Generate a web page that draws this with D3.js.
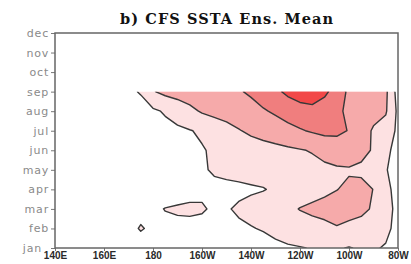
<!DOCTYPE html>
<html>
<head>
<meta charset="utf-8">
<script src="https://cdn.jsdelivr.net/npm/d3@7"></script>
<style>
  body { margin: 0; background: #fff; }
  svg { display: block; }
  .title { font-family: "DejaVu Serif", serif; font-weight: bold; font-size: 14.5px; fill: #111; }
  .y-axis text { font-family: "DejaVu Sans", sans-serif; font-size: 11px; fill: #8a8a8a; letter-spacing: 0.8px; }
  .x-axis text { font-family: "Liberation Sans", Arial, sans-serif; font-size: 10px; font-weight: bold; fill: #2a2a2a; }
  .domain { display: none; }
  .tick line { stroke: #777; }
  .contour { stroke: #383838; stroke-width: 1.4; stroke-linejoin: round; }
</style>
</head>
<body>
<svg id="chart" width="411" height="264"></svg>
<script>
const months = ["jan", "feb", "mar", "apr", "may", "jun", "jul", "aug", "sep", "oct", "nov", "dec"];
const lonTicks = [140, 160, 180, 200, 220, 240, 260, 280];
const lonLabels = ["140E", "160E", "180", "160W", "140W", "120W", "100W", "80W"];

// grid longitudes 140E..80W every 5 degrees, one row per month (jan..sep)
const lons = d3.range(140, 281, 5);
const levels = [0.5, 1.0, 1.5, 2.0];
const levelColors = ["#fde1e2", "#f6aaaa", "#f07e7e", "#f24848"];

const jan = [0, 0, 0.02, 0.03, 0.05, 0.07, 0.1, 0.2, 0.15, 0.15, 0.15, 0.18, 0.2, 0.22, 0.25, 0.28, 0.3, 0.35, 0.4, 0.45, 0.48, 0.52, 0.51, 0.54, 0.48, 0.55, 0.56, 0.45, 0.2];
const feb = [0, 0.01, 0.03, 0.06, 0.1, 0.18, 0.3, 0.55, 0.38, 0.35, 0.36, 0.37, 0.38, 0.39, 0.4, 0.44, 0.48, 0.53, 0.62, 0.7, 0.76, 0.82, 0.88, 0.97, 0.88, 0.84, 0.78, 0.65, 0.3];
const mar = [0, 0.02, 0.05, 0.08, 0.12, 0.17, 0.22, 0.3, 0.38, 0.52, 0.57, 0.58, 0.54, 0.44, 0.47, 0.55, 0.62, 0.7, 0.78, 0.88, 1.02, 1.1, 1.15, 1.18, 1.18, 1.1, 0.95, 0.7, 0.35];
const apr = [0, 0.01, 0.03, 0.05, 0.07, 0.09, 0.11, 0.13, 0.14, 0.16, 0.22, 0.34, 0.42, 0.4, 0.4, 0.42, 0.45, 0.48, 0.56, 0.65, 0.72, 0.8, 0.9, 0.99, 1.08, 1.15, 0.99, 0.65, 0.3];
const may = [0, 0.01, 0.02, 0.03, 0.04, 0.06, 0.08, 0.11, 0.15, 0.2, 0.28, 0.36, 0.45, 0.55, 0.6, 0.63, 0.66, 0.68, 0.72, 0.76, 0.8, 0.86, 0.9, 0.94, 0.96, 0.9, 0.72, 0.53, 0.3];
const jun = [0, 0.01, 0.02, 0.03, 0.05, 0.07, 0.1, 0.15, 0.2, 0.25, 0.32, 0.4, 0.47, 0.56, 0.62, 0.68, 0.74, 0.8, 0.86, 0.92, 0.97, 1.03, 1.15, 1.25, 1.25, 1.15, 0.95, 0.6, 0.35];
const jul = [0, 0.02, 0.05, 0.07, 0.1, 0.15, 0.2, 0.25, 0.3, 0.36, 0.42, 0.48, 0.56, 0.68, 0.82, 0.97, 1.1, 1.2, 1.28, 1.36, 1.46, 1.55, 1.62, 1.6, 1.48, 1.2, 0.95, 0.8, 0.4];
const aug = [0.05, 0.08, 0.1, 0.15, 0.2, 0.25, 0.3, 0.35, 0.42, 0.55, 0.7, 0.88, 1.05, 1.15, 1.22, 1.3, 1.38, 1.46, 1.56, 1.7, 1.8, 1.85, 1.75, 1.6, 1.4, 1.25, 1.15, 1.05, 0.4];
const sep = [0.1, 0.15, 0.2, 0.25, 0.3, 0.36, 0.42, 0.53, 0.97, 1.12, 1.2, 1.25, 1.3, 1.35, 1.4, 1.47, 1.55, 1.7, 1.9, 2.1, 2.25, 2.3, 2.1, 1.8, 1.4, 1.3, 1.2, 1.1, 0.3];

const rows = [jan, feb, mar, apr, may, jun, jul, aug, sep];

const svg = d3.select("#chart");
const margin = { left: 55, right: 13, top: 33, bottom: 16 };
const width = 411;
const height = 264;

const x = d3.scaleLinear().domain([140, 280]).range([margin.left, width - margin.right]);
const y = d3.scaleLinear().domain([0, 11]).range([height - margin.bottom, margin.top]);

svg.append("text")
  .attr("class", "title")
  .attr("x", (x.range()[0] + x.range()[1]) / 2)
  .attr("y", 24)
  .attr("text-anchor", "middle")
  .attr("textLength", 213)
  .attr("lengthAdjust", "spacing")
  .text("b) CFS SSTA Ens. Mean");

svg.append("clipPath")
  .attr("id", "data-clip")
  .append("rect")
  .attr("x", x(140))
  .attr("y", y(rows.length - 1))
  .attr("width", x(280) - x(140))
  .attr("height", y(0) - y(rows.length - 1));

// grid cell centres sit at index + 0.5 in contour space
const step = lons[1] - lons[0];
const toScreen = d3.geoTransform({
  point(gx, gy) {
    this.stream.point(x(lons[0] + (gx - 0.5) * step), y(gy - 0.5));
  },
});
const path = d3.geoPath(toScreen);

const contours = d3.contours()
  .size([lons.length, rows.length])
  .thresholds(levels)(rows.flat());

svg.append("g")
  .attr("clip-path", "url(#data-clip)")
  .selectAll("path")
  .data(contours)
  .join("path")
  .attr("class", "contour")
  .attr("fill", (_, i) => levelColors[i])
  .attr("d", path);

const yAxis = svg.append("g")
  .attr("class", "y-axis")
  .attr("transform", `translate(${margin.left},0)`)
  .call(
    d3.axisLeft(y)
      .tickValues(d3.range(months.length))
      .tickFormat((i) => months[i])
      .tickSize(4)
      .tickPadding(2),
  );

// the corner label sits just left of "140E"
yAxis.selectAll(".tick text")
  .filter((d) => d === 0)
  .attr("dx", -7);

svg.append("g")
  .attr("class", "x-axis")
  .attr("transform", `translate(0,${y(0)})`)
  .call(
    d3.axisBottom(x)
      .tickValues(lonTicks)
      .tickFormat((d, i) => lonLabels[i])
      .tickSize(3)
      .tickPadding(1),
  );

svg.append("rect")
  .attr("x", x(140))
  .attr("y", y(11))
  .attr("width", x(280) - x(140))
  .attr("height", y(0) - y(11))
  .attr("fill", "none")
  .attr("stroke", "#666")
  .attr("stroke-width", 1.5);
</script>
</body>
</html>
